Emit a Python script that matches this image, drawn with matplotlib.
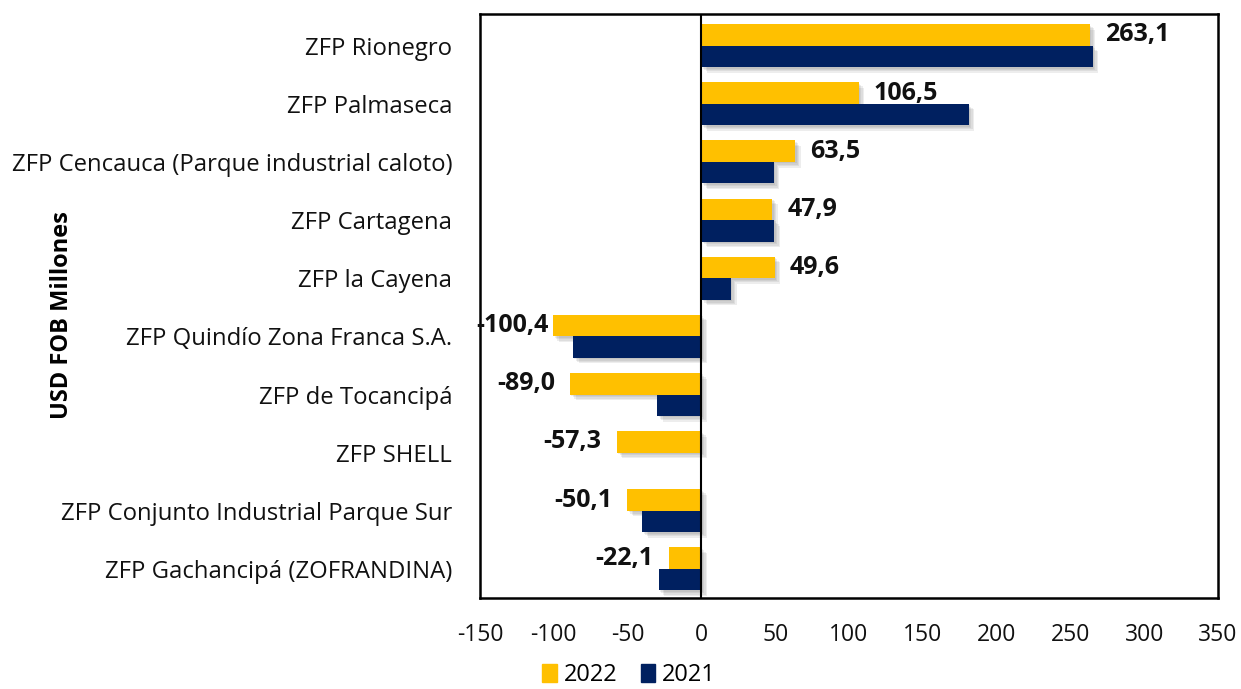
import numpy as np
import matplotlib
matplotlib.use('Agg')
import matplotlib.pyplot as plt
import matplotlib.patheffects as pe
from matplotlib.patches import Patch

plt.rcParams['font.family'] = ['Open Sans', 'DejaVu Sans']

# -- data
zonas = ['ZFP Rionegro', 'ZFP Palmaseca', 'ZFP Cencauca (Parque industrial caloto)',
         'ZFP Cartagena', 'ZFP la Cayena', 'ZFP Quindío Zona Franca S.A.',
         'ZFP de Tocancipá', 'ZFP SHELL', 'ZFP Conjunto Industrial Parque Sur',
         'ZFP Gachancipá (ZOFRANDINA)']
v2022 = [263.1, 106.5, 63.5, 47.9, 49.6, -100.4, -89.0, -57.3, -50.1, -22.1]
v2021 = [265.0, 181.0, 49.0, 49.5, 20.0, -87.0, -30.0, 0.0, -40.0, -29.0]
xticks = [-150, -100, -50, 0, 50, 100, 150, 200, 250, 300, 350]

c22 = '#FFC000'
c21 = '#002060'
txt = '#111111'

# -- figure
fig = plt.figure(figsize=(12.41, 6.89), dpi=100)
ax = fig.add_axes([0.3868, 0.1321, 0.5947, 0.8476])

y = np.arange(len(zonas))
h = 0.37
# soft drop shadow: a few stacked offsets
shadow = [pe.SimplePatchShadow(offset=(k, -k), shadow_rgbFace='#606060', alpha=0.11)
          for k in (1.0, 2.0, 3.0, 4.0)] + [pe.Normal()]

b22 = ax.barh(y - h / 2, v2022, height=h, color=c22, zorder=2)
b21 = ax.barh(y + h / 2, v2021, height=h, color=c21, zorder=2)
for b in list(b22) + list(b21):
    if b.get_width() != 0:
        b.set_path_effects(shadow)

# data labels (only 2022)
for yi, v in zip(y, v2022):
    s = f'{v:.1f}'.replace('.', ',')
    if v >= 0:
        ax.annotate(s, (v, yi - h / 2), xytext=(11, 0), textcoords='offset points',
                    ha='left', va='center', fontsize=18, fontweight='bold', color=txt,
                    annotation_clip=False, zorder=4)
    else:
        off = -3 if v < -95 else -11
        ax.annotate(s, (v, yi - h / 2), xytext=(off, 0), textcoords='offset points',
                    ha='right', va='center', fontsize=18, fontweight='bold', color=txt,
                    annotation_clip=False, zorder=4)

ax.axvline(0, color='black', lw=1.5, zorder=3)

ax.set_xlim(-150, 350)
ax.set_ylim(len(zonas) - 0.5, -0.545)
ax.set_xticks(xticks)
ax.set_xticklabels([str(t) for t in xticks])
ax.set_yticks(y)
ax.set_yticklabels(zonas)
ax.tick_params(axis='x', length=0, labelsize=16.5, colors=txt, pad=18)
ax.tick_params(axis='y', length=0, labelsize=17.2, colors=txt, pad=20)

for sp in ax.spines.values():
    sp.set_linewidth(1.8)
    sp.set_color('black')

fig.text(0.050, 0.543, 'USD FOB Millones', rotation=90, ha='center', va='center',
         fontsize=17, fontweight='bold', color='black')

handles = [Patch(color=c22), Patch(color=c21)]
fig.legend(handles=handles, labels=['2022', '2021'], loc='center',
           bbox_to_anchor=(0.507, 0.02), ncol=2, frameon=False, fontsize=17,
           handlelength=0.6, handleheight=0.8, handletextpad=0.3, columnspacing=1.0)

fig.savefig('out.png', dpi=100)
